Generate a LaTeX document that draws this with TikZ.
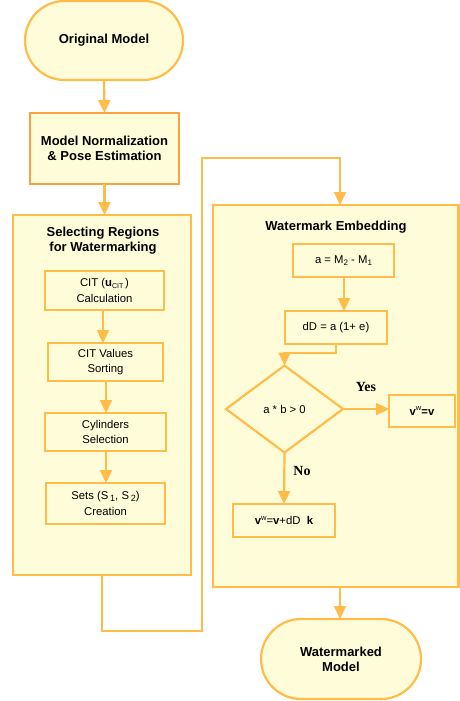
\documentclass[tikz,border=0pt]{standalone}
\usepackage{fontspec}
\setmainfont{Liberation Sans}
\newfontfamily\timesb{Liberation Serif}
\usetikzlibrary{shapes.geometric,arrows.meta}
\definecolor{oline}{RGB}{255,188,72}
\definecolor{odark}{RGB}{248,162,66}
\definecolor{yfill}{RGB}{255,252,218}
\begin{document}
\begin{tikzpicture}[x=1pt,y=-1pt,
  every node/.style={inner sep=0pt,outer sep=0pt,align=center},
  base/.style={draw=oline,line width=2.2pt,fill=yfill},
  term/.style={base,rounded corners=39.5pt,font=\fontsize{13}{15}\selectfont\bfseries},
  bigbox/.style={base,font=\fontsize{13}{15}\selectfont\bfseries},
  small/.style={base,font=\fontsize{11.3}{15.5}\selectfont},
  conn/.style={draw=oline,line width=2.2pt},
  arr/.style={conn,-{Triangle[length=13pt,width=12pt]}},
  lbl/.style={font=\fontsize{14}{16}\selectfont\timesb\bfseries}
]
\useasboundingbox (0,0) rectangle (459,701);
% left column
\node[term,minimum width=158pt,minimum height=79pt] (orig) at (104,40.5) {Original Model};
\node[bigbox,draw=odark,minimum width=149pt,minimum height=71pt] (norm) at (104.5,148.5) {Model Normalization\\ \& Pose Estimation};
\node[base,minimum width=178pt,minimum height=360pt] (sel) at (102,395) {};
\node[font=\fontsize{13}{15}\selectfont\bfseries] (seltitle) at (103,240.5) {Selecting Regions\\for Watermarking};
\node[small,minimum width=119pt,minimum height=39pt] (cit) at (104.5,290.5) {CIT (\textbf{u}\raisebox{-1.5pt}{\fontsize{7}{8}\selectfont CIT}\,)\\Calculation};
\node[small,minimum width=115pt,minimum height=38pt] (sort) at (105.5,362) {CIT Values\\Sorting};
\node[small,minimum width=121pt,minimum height=38pt] (cyl) at (105.5,432) {Cylinders\\Selection};
\node[small,minimum width=119pt,minimum height=41pt] (sets) at (105.5,503.5) {Sets (S\,\raisebox{-2pt}{\small 1}, S\,\raisebox{-2pt}{\small 2})\\Creation};
% right column
\node[base,minimum width=245.5pt,minimum height=382pt] (wm) at (335.75,396) {};
\node[font=\fontsize{13}{15}\selectfont\bfseries] (wmtitle) at (336,227) {Watermark Embedding};
\node[small,minimum width=101pt,minimum height=33pt] (am) at (343.5,260.5) {a = M\raisebox{-2pt}{\footnotesize 2} - M\raisebox{-2pt}{\footnotesize 1}};
\node[small,minimum width=102pt,minimum height=33pt] (dd) at (336,327.5) {dD = a (1+ e)};
\node[small,shape=diamond,minimum width=117pt,minimum height=87pt] (dia) at (284.5,409) {a * b > 0};
\node[small,minimum width=66pt,minimum height=32pt] (yes) at (422,411) {\textbf{v}\raisebox{4.5pt}{\fontsize{7.5}{8}\selectfont w}\textbf{=v}};
\node[small,minimum width=102pt,minimum height=33pt] (no) at (284,520.5) {\textbf{v}\raisebox{4.5pt}{\fontsize{7.5}{8}\selectfont w}=\textbf{v}+dD\ \ \textbf{k}};
\node[term,minimum width=160pt,minimum height=80pt,rounded corners=40pt] (out) at (341,659) {Watermarked\\Model};
\node[lbl] (lyes) at (366,387) {Yes};
\node[lbl] (lno) at (302,471) {No};
% connectors
\draw[arr] (orig.south) -- (norm.north);
\draw[arr] (norm.south) -- (norm.south |- sel.north);
\draw[arr] (103,310) coordinate (c0) -- (c0 |- sort.north);
\draw[arr] (106,381) coordinate (c01) -- (c01 |- cyl.north);
\draw[arr] (106,451) coordinate (c02) -- (c02 |- sets.north);
\coordinate (s0) at (102,575);
\coordinate (s1) at (102,631);
\coordinate (s2) at (202,631);
\coordinate (s3) at (202,158);
\coordinate (s4) at (340,158);
\draw[arr] (s0) -- (s1) -- (s2) -- (s3) -- (s4) -- (s4 |- wm.north);
\draw[arr] (344,277) coordinate (a0) -- (a0 |- dd.north);
\coordinate (d0) at (336,344);
\coordinate (d1) at (336,353);
\draw[arr] (d0) -- (d1) -- (d1 -| dia.north) -- (dia.north);
\draw[arr] (dia.east) -- (dia.east -| yes.west);
\draw[arr] (dia.south) -- (no.north);
\draw[arr] (340,587) coordinate (w0) -- (w0 |- out.north);
\end{tikzpicture}
\end{document}
